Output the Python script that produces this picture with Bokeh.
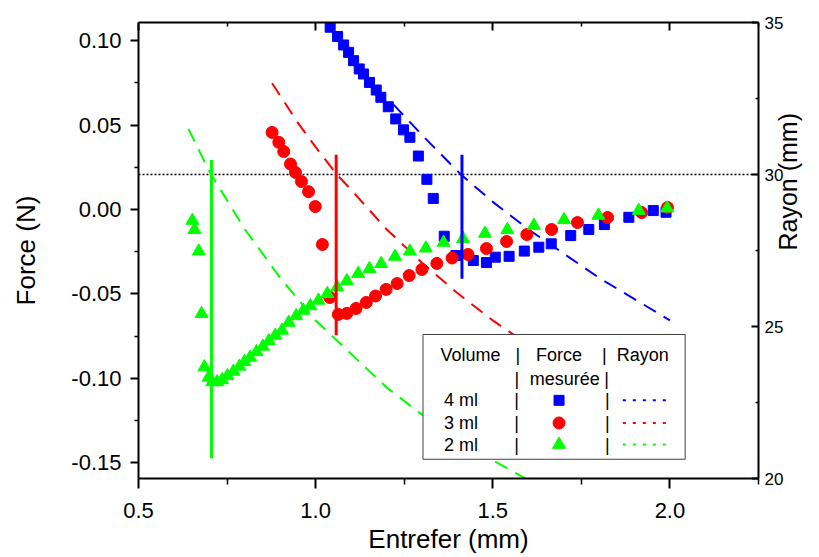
import math
from bokeh.plotting import figure
from bokeh.models import (Range1d, LinearAxis, FixedTicker, PrintfTickFormatter,
                          CustomJSTickFormatter, Span)
from bokeh.embed import file_html
from bokeh.resources import INLINE
from bokeh.core.properties import value

# ---------------- data ----------------
gap_4ml = [1.041, 1.062, 1.079, 1.093, 1.107, 1.123, 1.135, 1.152, 1.171, 1.184, 1.205,
           1.226, 1.248, 1.266, 1.290, 1.314, 1.332, 1.363, 1.396, 1.445, 1.482, 1.507,
           1.546, 1.589, 1.630, 1.665, 1.720, 1.771, 1.815, 1.884, 1.953, 1.989]
force_4ml = [0.108, 0.1025, 0.0975, 0.0931, 0.0882, 0.0833, 0.0803, 0.0753, 0.0708, 0.0665,
             0.0609, 0.0537, 0.0472, 0.0428, 0.0317, 0.0179, 0.0066, -0.0158, -0.0272,
             -0.0302, -0.0314, -0.0282, -0.0277, -0.0246, -0.0223, -0.0203, -0.0154,
             -0.0118, -0.0089, -0.0046, -0.0006, -0.0016]

gap_3ml = [0.877, 0.896, 0.910, 0.929, 0.943, 0.960, 0.980, 0.999, 1.019, 1.040, 1.064,
           1.088, 1.114, 1.143, 1.169, 1.199, 1.230, 1.264, 1.300, 1.342, 1.385, 1.430,
           1.482, 1.539, 1.596, 1.666, 1.739, 1.824, 1.920, 1.993]
force_3ml = [0.0457, 0.0398, 0.0344, 0.0270, 0.0220, 0.0166, 0.0106, 0.0018, -0.0207,
             -0.0521, -0.0621, -0.0615, -0.0586, -0.0550, -0.0512, -0.0473, -0.0438,
             -0.0391, -0.0355, -0.0319, -0.0287, -0.0266, -0.0231, -0.0189, -0.0148,
             -0.0118, -0.0077, -0.0047, -0.0018, 0.0012]

gap_2ml = [0.652, 0.658, 0.670, 0.678, 0.686, 0.698, 0.708, 0.722, 0.736, 0.751, 0.768,
           0.785, 0.799, 0.815, 0.833, 0.851, 0.868, 0.886, 0.905, 0.924, 0.945, 0.965,
           0.985, 1.008, 1.033, 1.061, 1.088, 1.120, 1.152, 1.185, 1.224, 1.266, 1.311,
           1.361, 1.416, 1.478, 1.541, 1.616, 1.701, 1.798, 1.912, 1.992]
force_2ml = [-0.0065, -0.0120, -0.0247, -0.0617, -0.0933, -0.0994, -0.1021, -0.1021,
             -0.1009, -0.0985, -0.0959, -0.0929, -0.0902, -0.0876, -0.0843, -0.0811,
             -0.0778, -0.0746, -0.0716, -0.0669, -0.0630, -0.0598, -0.0571, -0.0538,
             -0.0499, -0.0460, -0.0422, -0.0380, -0.0351, -0.0321, -0.0278, -0.0247,
             -0.0229, -0.0195, -0.0173, -0.0142, -0.0120, -0.0095, -0.0061, -0.0035,
             -0.0006, 0.0008]

# radius curves (right axis, mm)
rgap_4ml = [1.22, 1.30, 1.41, 1.50, 1.60, 1.70, 1.80, 1.90, 2.00]
rayon_4ml = [32.3, 31.3, 30.0, 29.1, 28.2, 27.4, 26.6, 25.9, 25.2]
rgap_3ml = [0.877, 0.95, 1.00, 1.06, 1.10, 1.20, 1.30, 1.40, 1.50, 1.60, 1.70, 1.80, 1.90, 2.00]
rayon_3ml = [33.0, 31.7, 30.9, 30.0, 29.5, 28.2, 27.1, 26.1, 25.2, 24.4, 23.7, 23.0, 22.4, 21.9]
rgap_2ml = [0.641, 0.70, 0.80, 0.90, 1.00, 1.10, 1.20, 1.30, 1.40, 1.50, 1.60]
rayon_2ml = [31.5, 30.1, 28.2, 26.6, 25.2, 24.1, 23.0, 22.1, 21.3, 20.6, 19.95]

rayon_ref = 30.0  # dotted reference line (right axis)

# vertical markers (gap at which radius = 30 mm)
vline_x = [0.706, 1.058, 1.413]
vline_top = [0.0294, 0.0325, 0.0325]
vline_bottom = [-0.1473, -0.0745, -0.0410]
vline_color = ["#00FF00", "#FF0000", "#0000FF"]

x_ticks = [0.5, 1.0, 1.5, 2.0]
x_minor = [0.75, 1.25, 1.75, 2.25]
y_ticks = [-0.15, -0.10, -0.05, 0.0, 0.05, 0.10]
y_minor = [-0.125, -0.075, -0.025, 0.025, 0.075]
r_ticks = [20, 25, 30, 35]
r_minor = [22.5, 27.5, 32.5]

BLUE, RED, GREEN = "#0000FF", "#FF0000", "#00FF00"
FONT = "Liberation Sans"

# ---------------- figure ----------------
p = figure(width=819, height=557, x_range=Range1d(0.5, 2.25), y_range=Range1d(-0.1593, 0.1108),
           output_backend="svg", toolbar_location=None, x_axis_type=None, y_axis_type=None,
           min_border_left=138, min_border_right=59, min_border_top=22, min_border_bottom=79)
p.extra_y_ranges = {"r": Range1d(20, 35)}
p.outline_line_color = None
p.background_fill_color = "white"
p.border_fill_color = "white"


def base_style(ax):
    ax.axis_line_width = 2
    ax.axis_line_color = "black"
    ax.major_tick_line_width = 2
    ax.minor_tick_line_width = 1.5
    ax.major_tick_line_color = "black"
    ax.minor_tick_line_color = "black"
    ax.major_label_text_font = FONT
    ax.major_label_text_color = "black"
    ax.axis_label_text_font = FONT
    ax.axis_label_text_font_style = "normal"
    ax.axis_label_text_font_size = "26px"
    ax.axis_label_text_color = "black"


xb = LinearAxis(ticker=FixedTicker(ticks=x_ticks, minor_ticks=x_minor),
                formatter=PrintfTickFormatter(format="%.1f"), axis_label="Entrefer (mm)")
base_style(xb)
xb.major_tick_out, xb.major_tick_in = 10, 0
xb.minor_tick_out, xb.minor_tick_in = 6, 0
xb.major_label_text_font_size = "22px"
xb.major_label_standoff = 14
xb.axis_label_standoff = 3
p.add_layout(xb, "below")

xt = LinearAxis(ticker=FixedTicker(ticks=x_ticks, minor_ticks=x_minor),
                formatter=CustomJSTickFormatter(code="return ''"))
base_style(xt)
xt.major_tick_out, xt.major_tick_in = 0, 8
xt.minor_tick_out, xt.minor_tick_in = 0, 4
xt.major_label_standoff = 0
p.add_layout(xt, "above")

yl = LinearAxis(ticker=FixedTicker(ticks=y_ticks, minor_ticks=y_minor),
                formatter=PrintfTickFormatter(format="%.2f"), axis_label="Force (N)")
base_style(yl)
yl.major_tick_out, yl.major_tick_in = 8, 0
yl.minor_tick_out, yl.minor_tick_in = 4, 0
yl.major_label_text_font_size = "22px"
yl.major_label_standoff = 9
yl.axis_label_standoff = 27
p.add_layout(yl, "left")

yr = LinearAxis(y_range_name="r", ticker=FixedTicker(ticks=r_ticks, minor_ticks=r_minor),
                formatter=PrintfTickFormatter(format="%d"), axis_label="Rayon (mm)")
base_style(yr)
yr.major_tick_out, yr.major_tick_in = 0, 7
yr.minor_tick_out, yr.minor_tick_in = 0, 3
yr.major_label_text_font_size = "17px"
yr.major_label_standoff = 6
yr.axis_label_text_font_size = "25px"
yr.axis_label_standoff = 2
if "axis_label_orientation" in yr.properties():
    yr.axis_label_orientation = math.pi / 2
p.add_layout(yr, "right")

# radius curves (dashed)
for gx, rv, c in [(rgap_4ml, rayon_4ml, BLUE), (rgap_3ml, rayon_3ml, RED), (rgap_2ml, rayon_2ml, GREEN)]:
    p.line(gx, rv, y_range_name="r", line_color=c, line_width=2, line_dash="14 9")

# dotted reference line
p.add_layout(Span(location=rayon_ref, dimension="width", y_range_name="r", line_color="black",
                  line_width=1.3, line_dash="2 2", level="underlay"))

# measured forces
p.scatter(gap_4ml, force_4ml, marker="square", size=10, fill_color=BLUE, line_color=BLUE)
p.scatter(gap_3ml, force_3ml, marker="circle", size=12, fill_color=RED, line_color=RED)
p.scatter(gap_2ml, force_2ml, marker="triangle", size=13, fill_color=GREEN, line_color=GREEN)

# vertical lines
p.segment(x0=vline_x, x1=vline_x, y0=vline_bottom, y1=vline_top, line_color=vline_color, line_width=3)

# ---------------- legend (table-like box) ----------------
leg_left, leg_right, leg_top, leg_bottom = 1.303, 2.043, -0.0740, -0.1479
p.quad(left=[leg_left], right=[leg_right], top=[leg_top], bottom=[leg_bottom],
       fill_color="white", line_color="#404040", line_width=1)

r1, r2, r3, r4, r5 = -0.0864, -0.1002, -0.1130, -0.1264, -0.1392
leg_text = ["Volume", "|", "Force", "|", "Rayon",
            "|", "mesurée", "|",
            "4 ml", "|", "|",
            "3 ml", "|", "|",
            "2 ml", "|", "|"]
leg_tx = [1.437, 1.571, 1.687, 1.815, 1.923,
          1.568, 1.703, 1.821,
          1.410, 1.567, 1.823,
          1.410, 1.567, 1.823,
          1.410, 1.567, 1.823]
leg_ty = [r1, r1, r1, r1, r1, r2, r2, r2, r3, r3, r3, r4, r4, r4, r5, r5, r5]
p.text(x=leg_tx, y=leg_ty, text=leg_text, text_font=value(FONT), text_font_size=value("18px"),
       text_align="center", text_baseline="middle", text_color="black")

leg_mx = 1.687
p.scatter([leg_mx], [r3], marker="square", size=10, fill_color=BLUE, line_color=BLUE)
p.scatter([leg_mx], [r4], marker="circle", size=12, fill_color=RED, line_color=RED)
p.scatter([leg_mx], [r5], marker="triangle", size=13, fill_color=GREEN, line_color=GREEN)
for ry, c in [(r3, BLUE), (r4, RED), (r5, GREEN)]:
    p.line([1.867, 1.994], [ry, ry], line_color=c, line_width=2, line_dash="3 7")

open("out.html", "w").write(file_html(p, INLINE))
